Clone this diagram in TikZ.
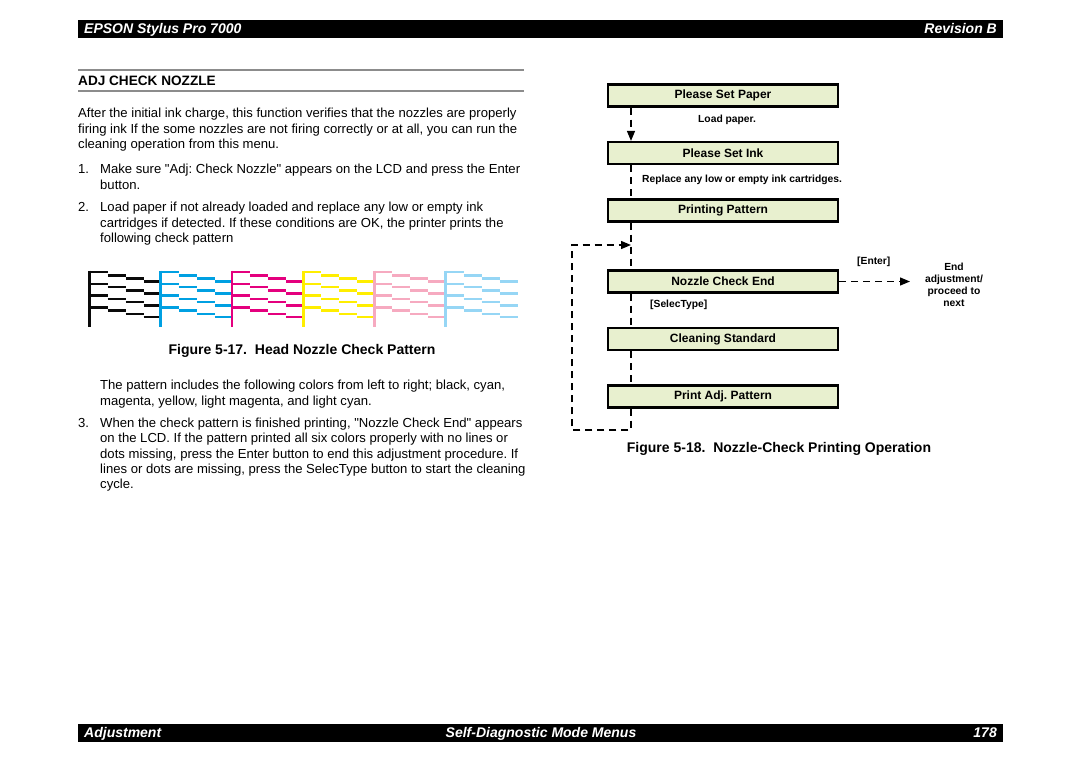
\documentclass[tikz,border=0pt]{standalone}
\usepackage{fontspec}
\setmainfont{Liberation Sans}
\usetikzlibrary{arrows.meta}
\usepackage{xcolor}
\frenchspacing

\definecolor{boxgreen}{RGB}{232,240,207}
\definecolor{inkk}{RGB}{10,10,10}
\definecolor{inkc}{RGB}{0,160,226}
\definecolor{inkm}{RGB}{228,0,126}
\definecolor{inky}{RGB}{255,238,0}
\definecolor{inklm}{RGB}{246,170,192}
\definecolor{inklc}{RGB}{150,214,245}

\newcommand{\bodyfont}{\fontsize{13.1}{15.4}\selectfont}
\newcommand{\capfont}{\fontsize{14}{16}\selectfont\bfseries}
\newcommand{\notefont}{\fontsize{10.3}{12}\selectfont\bfseries}
\newcommand{\dq}{\textquotedbl}

\tikzset{
  bar/.style={fill=black, draw=none},
  bartext/.style={text=white, inner sep=0pt, font=\fontsize{14}{16}\selectfont\bfseries\itshape},
  body/.style={anchor=north west, inner sep=0pt, align=left, font=\bodyfont},
  rulegray/.style={draw=black!45, line width=1.2pt},
  menubox/.style={draw, line width=2.2pt, fill=boxgreen, minimum width=230pt,
    minimum height=22pt, inner sep=0pt, font=\fontsize{12}{14}\selectfont\bfseries},
  flowline/.style={line width=1.3pt, dash pattern=on 7pt off 5pt},
  arrow/.style={-{Triangle[length=10pt,width=8pt]}},
  note/.style={inner sep=0pt, font=\notefont}
}

\begin{document}
\begin{tikzpicture}[x=1pt, y=-1pt]
    \useasboundingbox (0,0) rectangle (1080,763);

    % Header and footer bars
    \fill[bar] (78,20) rectangle (1003,38);
    \node[bartext, anchor=base west] (headl) at (84,33.5) {EPSON Stylus Pro 7000};
    \node[bartext, anchor=base east] (headr) at (997,33.5) {Revision B};
    \fill[bar] (78,724) rectangle (1003,742);
    \node[bartext, anchor=base west] (footl) at (84,737.5) {Adjustment};
    \node[bartext, anchor=base] (footm) at (541,737.5) {Self-Diagnostic Mode Menus};
    \node[bartext, anchor=base east] (footr) at (997,737.5) {178};

    % Section title
    \draw[rulegray] (78,70) -- (524,70);
    \node[anchor=base west, inner sep=0pt, font=\fontsize{13.6}{16}\selectfont\bfseries] (title) at (78,85) {ADJ CHECK NOZZLE};
    \draw[rulegray] (78,91) -- (524,91);

    % Left column text
    \node[body] (para1) at (78,106.7) {\strut After the initial ink charge, this function verifies that the nozzles are properly\\
      firing ink If the some nozzles are not firing correctly or at all, you can run the\\
      cleaning operation from this menu.};
    \node[body] (num1) at (78,162.7) {\strut 1.};
    \node[body] (item1) at (100,162.7) {\strut Make sure \dq Adj: Check Nozzle\dq\ appears on the LCD and press the Enter\\
      button.};
    \node[body] (num2) at (78,200.7) {\strut 2.};
    \node[body] (item2) at (100,200.7) {\strut Load paper if not already loaded and replace any low or empty ink\\
      cartridges if detected. If these conditions are OK, the printer prints the\\
      following check pattern};

    % Check pattern
    \foreach \ink [count=\i from 0] in {inkk,inkc,inkm,inky,inklm,inklc} {
      \pgfmathsetmacro{\xo}{89.5+71.2*\i}
      \draw[\ink, line width=2.8pt] (\xo,270.5) -- (\xo,326.5);
      \foreach \row in {0,...,3} {
        \foreach \s in {0,...,3} {
          \draw[\ink, line width=2.8pt] (\xo+18*\s,272+11.9*\row+3.1*\s) -- ++(18,0);
        }
      }
    }

    \node[anchor=base, inner sep=0pt, font=\capfont] (cap17) at (302,354) {Figure 5-17.\ \ Head Nozzle Check Pattern};

    \node[body] (para2) at (100,378.7) {\strut The pattern includes the following colors from left to right; black, cyan,\\
      magenta, yellow, light magenta, and light cyan.};
    \node[body] (num3) at (78,416.7) {\strut 3.};
    \node[body, font=\fontsize{13.1}{15.25}\selectfont] (item3) at (100,416.7) {\strut When the check pattern is finished printing, \dq Nozzle Check End\dq\ appears\\
      on the LCD. If the pattern printed all six colors properly with no lines or\\
      dots missing, press the Enter button to end this adjustment procedure. If\\
      lines or dots are missing, press the SelecType button to start the cleaning\\
      cycle.};

    % Nodes
    \node[menubox] (paper) at (723,95.5) {Please Set Paper};
    \node[menubox] (ink) at (723,153) {Please Set Ink};
    \node[menubox] (pattern) at (723,210.5) {Printing Pattern};
    \node[menubox] (nce) at (723,281.5) {Nozzle Check End};
    \node[menubox] (clean) at (723,339) {Cleaning Standard};
    \node[menubox] (adj) at (723,396.5) {Print Adj. Pattern};

    \coordinate (loopin) at (631,245);
    \coordinate (loopbl) at (572,430);
    \coordinate (endpt) at (910,281.5);

    \node[note, anchor=west] (loadp) at (698,120) {Load paper.};
    \node[note, anchor=west] (repl) at (642,180) {Replace any low or empty ink cartridges.};
    \node[note, anchor=west] (selec) at (650,305) {[SelecType]};
    \node[note, anchor=west] (enter) at (857,261.5) {[Enter]};
    \node[note, align=center, font=\fontsize{10.3}{11.8}\selectfont\bfseries] (endadj) at (954,285) {End\\adjustment/\\proceed to\\next};

    % Edges
    \draw[flowline, arrow] (paper.south -| loopin) -- (ink.north -| loopin);
    \draw[flowline] (ink.south -| loopin) -- (pattern.north -| loopin);
    \draw[flowline] (pattern.south -| loopin) -- (nce.north -| loopin);
    \draw[flowline] (nce.south -| loopin) -- (clean.north -| loopin);
    \draw[flowline] (clean.south -| loopin) -- (adj.north -| loopin);
    \draw[flowline, arrow] (adj.south -| loopin) |- (loopbl) |- (loopin);
    \draw[flowline, arrow] (nce.east) -- (endpt);

    \node[anchor=base, inner sep=0pt, font=\capfont] (cap18) at (779,452) {Figure 5-18.\ \ Nozzle-Check Printing Operation};
\end{tikzpicture}
\end{document}
